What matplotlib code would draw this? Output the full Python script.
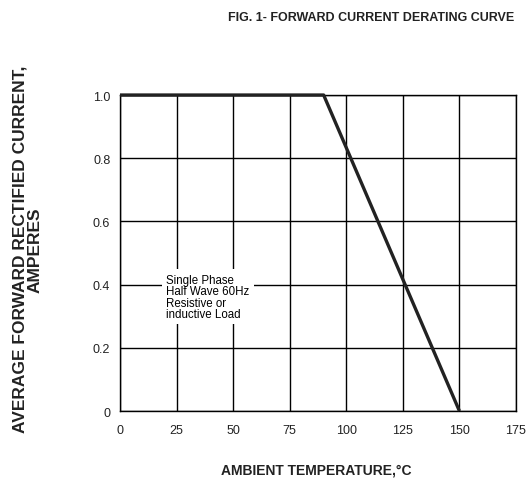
import matplotlib
matplotlib.use("Agg")
import matplotlib.pyplot as plt

temps = [0, 90, 150]
current = [1.0, 1.0, 0.0]
xticks = [0, 25, 50, 75, 100, 125, 150, 175]
yticks = [0, 0.2, 0.4, 0.6, 0.8, 1.0]
ytick_labels = ["0", "0.2", "0.4", "0.6", "0.8", "1.0"]

fig = plt.figure(figsize=(5.27, 4.85), dpi=100)
ax = fig.add_axes([0.2277, 0.1505, 0.7514, 0.6515])
ax.set_xlim(0, 175)
ax.set_ylim(0, 1.0)
ax.set_xticks(xticks)
ax.set_yticks(yticks)
ax.set_yticklabels(ytick_labels)
ax.grid(True, color="black", linewidth=1.0)
ax.set_axisbelow(True)
for s in ax.spines.values():
    s.set_linewidth(1.0)
    s.set_color("black")
ax.tick_params(length=0, labelsize=9, colors="#222222")
ax.tick_params(axis="x", pad=9)
ax.tick_params(axis="y", pad=7)
for lab in ax.get_xticklabels() + ax.get_yticklabels():
    lab.set_fontfamily("Liberation Sans")

ax.plot(temps, current, color="#222222", linewidth=2.4, solid_capstyle="butt", clip_on=False, zorder=5)

ax.text(20.5, 0.435, "Single Phase\nHalf Wave 60Hz\nResistive or\ninductive Load",
        fontsize=8.3, family="Liberation Sans", va="top", ha="left", linespacing=0.95,
        bbox=dict(facecolor="white", edgecolor="none", pad=3), zorder=6)

fig.text(0.704, 0.962, "FIG. 1- FORWARD CURRENT DERATING CURVE", ha="center", va="center",
         fontsize=9, fontweight="bold", family="Liberation Sans", color="#222222")
fig.text(0.600, 0.03, "AMBIENT TEMPERATURE,\u00b0C", ha="center", va="center",
         fontsize=10, fontweight="bold", family="Liberation Sans", color="#222222")
fig.text(0.053, 0.485, "AVERAGE FORWARD RECTIFIED CURRENT,\nAMPERES", ha="center", va="center",
         rotation=90, fontsize=12.5, fontweight="bold", family="Liberation Sans",
         color="#222222", linespacing=1.0)

fig.savefig("out.png", dpi=100)
